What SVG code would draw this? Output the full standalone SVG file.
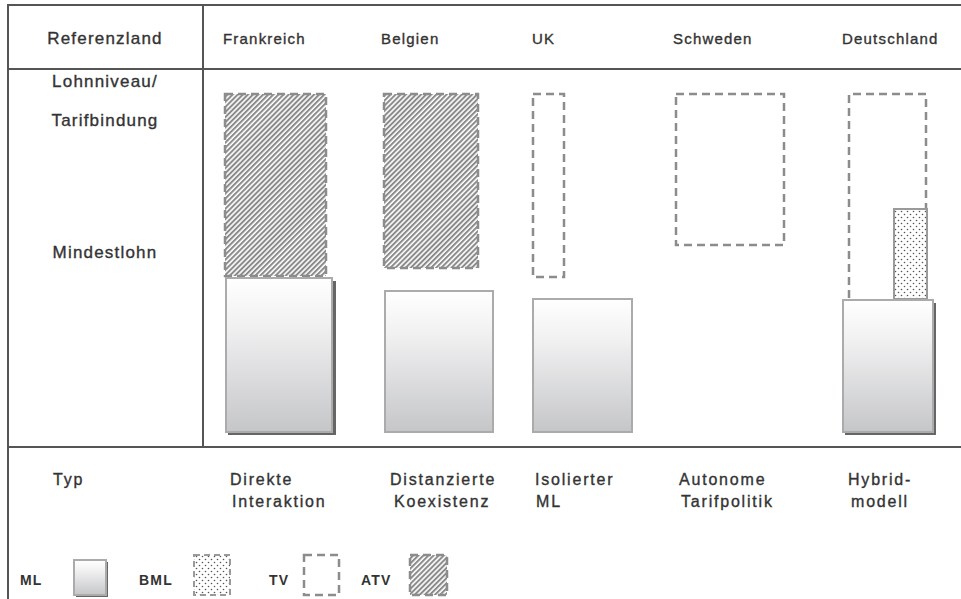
<svg xmlns="http://www.w3.org/2000/svg" width="961" height="599" viewBox="0 0 961 599">
<style>
  .hdr { font-family: "Liberation Sans", Arial, sans-serif; font-size: 15px; fill: #333; stroke: #333; stroke-width: 0.35; letter-spacing: 1.2px; }
  .lbl { font-family: "Liberation Sans", Arial, sans-serif; font-size: 17px; fill: #333; stroke: #333; stroke-width: 0.35; letter-spacing: 1.2px; }
  .typ { font-family: "Liberation Sans", Arial, sans-serif; font-size: 16px; fill: #333; stroke: #333; stroke-width: 0.35; letter-spacing: 1.8px; }
  .leg { font-family: "Liberation Sans", Arial, sans-serif; font-size: 14px; font-weight: bold; fill: #333; letter-spacing: 1.2px; }
  .grid { stroke: #555; stroke-width: 2; fill: none; }
  .ml { fill: url(#mlGrad); stroke: #ababab; stroke-width: 2; }
  .shadow { fill: #666; }
  .tv { fill: none; stroke: #8c8c8c; stroke-width: 2.5; stroke-dasharray: 8 5; }
  .atv { fill: url(#hatch); stroke: #8c8c8c; stroke-width: 2.5; stroke-dasharray: 8 5; }
  .bml { fill: url(#dots); stroke: #9a9a9a; stroke-width: 2; }
  .bmlLeg { fill: url(#dots); stroke: #9a9a9a; stroke-width: 2; stroke-dasharray: 6 4; }
</style>
<defs>
  <linearGradient id="mlGrad" x1="0" y1="0" x2="0" y2="1">
    <stop offset="0" stop-color="#ffffff"/>
    <stop offset="0.3" stop-color="#f1f1f2"/>
    <stop offset="1" stop-color="#c5c6c8"/>
  </linearGradient>
  <pattern id="hatch" width="3.6" height="3.6" patternUnits="userSpaceOnUse" patternTransform="rotate(45)">
    <rect width="3.6" height="3.6" fill="#ffffff"/>
    <rect x="0" y="0" width="2" height="3.6" fill="#8a8a8a"/>
  </pattern>
  <pattern id="dots" width="6" height="6" patternUnits="userSpaceOnUse">
    <rect width="6" height="6" fill="#ffffff"/>
    <circle cx="1.5" cy="1.5" r="0.8" fill="#555"/>
    <circle cx="4.5" cy="4.5" r="0.8" fill="#555"/>
  </pattern>
</defs>
<rect width="961" height="599" fill="#ffffff"/>

<g id="table">
  <line class="grid" x1="8" y1="5" x2="961" y2="5"/>
  <line class="grid" x1="8" y1="69" x2="961" y2="69"/>
  <line class="grid" x1="8" y1="447" x2="961" y2="447"/>
  <line class="grid" x1="8" y1="4" x2="8" y2="599"/>
  <line class="grid" x1="203" y1="5" x2="203" y2="447"/>
</g>

<g id="row-labels">
  <text class="lbl" x="105" y="44" text-anchor="middle">Referenzland</text>
  <text class="lbl" x="105" y="87" text-anchor="middle">Lohnniveau/</text>
  <text class="lbl" x="105" y="126" text-anchor="middle">Tarifbindung</text>
  <text class="lbl" x="105" y="258" text-anchor="middle">Mindestlohn</text>
  <text class="typ" x="53" y="485">Typ</text>
</g>

<g id="frankreich">
  <text class="hdr" x="223" y="44">Frankreich</text>
  <rect class="atv" x="225" y="94" width="101" height="182"/>
  <rect class="shadow" x="228" y="281" width="108" height="154"/>
  <rect class="ml" x="226" y="278" width="106" height="154"/>
  <text class="typ" x="230" y="485">Direkte</text>
  <text class="typ" x="232" y="507">Interaktion</text>
</g>

<g id="belgien">
  <text class="hdr" x="381" y="44">Belgien</text>
  <rect class="atv" x="384" y="94" width="94" height="174"/>
  <rect class="ml" x="385" y="291" width="108" height="141"/>
  <text class="typ" x="390" y="485">Distanzierte</text>
  <text class="typ" x="394" y="507">Koexistenz</text>
</g>

<g id="uk">
  <text class="hdr" x="532" y="44">UK</text>
  <rect class="tv" x="533" y="94" width="31" height="183"/>
  <rect class="ml" x="533" y="299" width="99" height="133"/>
  <text class="typ" x="535" y="485">Isolierter</text>
  <text class="typ" x="536" y="507">ML</text>
</g>

<g id="schweden">
  <text class="hdr" x="673" y="44">Schweden</text>
  <rect class="tv" x="676" y="94" width="108" height="151"/>
  <text class="typ" x="679" y="485">Autonome</text>
  <text class="typ" x="681" y="507">Tarifpolitik</text>
</g>

<g id="deutschland">
  <text class="hdr" x="842" y="44">Deutschland</text>
  <polyline class="tv" points="849,298 849,94 926,94 926,208"/>
  <rect class="bml" x="894" y="209" width="33" height="90"/>
  <rect class="shadow" x="845" y="303" width="91" height="132"/>
  <rect class="ml" x="843" y="300" width="90" height="132"/>
  <text class="typ" x="848" y="485">Hybrid-</text>
  <text class="typ" x="851" y="507">modell</text>
</g>

<g id="legend">
  <text class="leg" x="20" y="585">ML</text>
  <rect class="shadow" x="76" y="562" width="32" height="35"/>
  <rect class="ml" x="74" y="560" width="32" height="35"/>
  <text class="leg" x="139" y="585">BML</text>
  <rect class="bmlLeg" x="194" y="555" width="36" height="40"/>
  <text class="leg" x="269" y="585">TV</text>
  <rect class="tv" x="304" y="555" width="35" height="40"/>
  <text class="leg" x="361" y="585">ATV</text>
  <rect class="atv" x="410" y="555" width="37" height="40"/>
</g>
</svg>
